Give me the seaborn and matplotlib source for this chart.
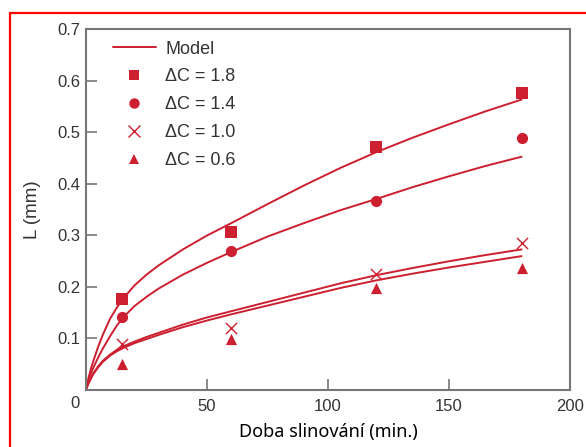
import numpy as np
import pandas as pd
import seaborn as sns
import matplotlib as mpl
from matplotlib import pyplot as plt
from matplotlib.lines import Line2D
from matplotlib.patches import Rectangle

sns.set_style("white")
plt.rcParams['font.family'] = ['Liberation Sans', 'DejaVu Sans']

# model curves
t_model = [0, 1, 2, 3, 5, 7, 10, 13, 16, 20, 25, 30, 40, 50, 60, 75, 90, 105, 120, 135, 150, 165, 180]
model_18 = [0, 0.022, 0.040, 0.055, 0.083, 0.107, 0.138, 0.161, 0.180, 0.202, 0.223, 0.241,
            0.272, 0.299, 0.323, 0.360, 0.396, 0.430, 0.461, 0.489, 0.515, 0.540, 0.563]
model_14 = [0, 0.018, 0.031, 0.042, 0.062, 0.080, 0.104, 0.126, 0.143, 0.162, 0.180, 0.196,
            0.223, 0.246, 0.267, 0.297, 0.323, 0.348, 0.370, 0.393, 0.414, 0.434, 0.452]
model_10 = [0, 0.012, 0.022, 0.031, 0.045, 0.056, 0.068, 0.078, 0.085, 0.093, 0.102, 0.110,
            0.126, 0.140, 0.152, 0.170, 0.188, 0.206, 0.222, 0.236, 0.249, 0.261, 0.272]
model_06 = [0, 0.012, 0.021, 0.030, 0.043, 0.054, 0.066, 0.075, 0.082, 0.090, 0.098, 0.106,
            0.121, 0.134, 0.146, 0.163, 0.180, 0.197, 0.212, 0.225, 0.237, 0.248, 0.259]

# measured points
t_meas = [15, 60, 120, 180]
meas_18 = [0.176, 0.305, 0.471, 0.576]
meas_14 = [0.141, 0.269, 0.366, 0.488]
meas_10 = [0.088, 0.119, 0.225, 0.284]
meas_06 = [0.050, 0.098, 0.198, 0.236]

labels = ['ΔC = 1.8', 'ΔC = 1.4', 'ΔC = 1.0', 'ΔC = 0.6']
markers = ['s', 'o', 'x', '^']
red = '#cc1f2f'

model_df = pd.concat([
    pd.DataFrame({'t': t_model, 'L': m, 'dc': lab})
    for m, lab in zip([model_18, model_14, model_10, model_06], labels)
])

fig = plt.figure(figsize=(5.86, 4.47), dpi=100)
ax = fig.add_axes([0.1468, 0.1286, 0.8259, 0.8065])

sns.lineplot(data=model_df, x='t', y='L', hue='dc', palette=[red] * 4,
             linewidth=1.4, legend=False, ax=ax, sort=False)
for m, meas in zip(markers, [meas_18, meas_14, meas_10, meas_06]):
    if m == 'x':
        sns.scatterplot(x=t_meas, y=meas, marker=m, color=red, s=65, linewidth=1.0,
                        ax=ax, zorder=3)
    else:
        sns.scatterplot(x=t_meas, y=meas, marker=m, color=red, s=65, linewidth=0,
                        ax=ax, zorder=3)

ax.set_xlim(0, 200)
ax.set_ylim(0, 0.7)
ax.set_xticks([0, 50, 100, 150, 200])
ax.set_yticks([0.1, 0.2, 0.3, 0.4, 0.5, 0.6, 0.7])
ax.set_yticklabels(['0.1', '0.2', '0.3', '0.4', '0.5', '0.6', '0.7'])
ax.tick_params(direction='in', length=8, width=1.2, color='#777777',
               labelsize=12, labelcolor='#333333', left=True, bottom=True)
ax.tick_params(axis='y', pad=4)
ax.tick_params(axis='x', pad=7)
ax.text(-0.013, -0.018, '0', transform=ax.transAxes, ha='right', va='top',
        fontsize=12, color='#333333')
ax.set_xticklabels(['', '50', '100', '150', '200'])
for s in ax.spines.values():
    s.set_color('#777777')
    s.set_linewidth(1.5)

ax.set_ylabel('L (mm)', fontsize=13.5, color='#333333', labelpad=12)
ax.set_xlabel('Doba slinování (min.)', fontsize=13, color='black', labelpad=6,
              family=['Noto Sans', 'DejaVu Sans'])

handles = [Line2D([], [], color=red, linewidth=1.4)]
for m in markers:
    if m == 'x':
        handles.append(Line2D([], [], color=red, marker=m, linestyle='none',
                              markersize=8, markeredgewidth=1.0))
    else:
        handles.append(Line2D([], [], color=red, marker=m, linestyle='none',
                              markersize=7.5, markeredgewidth=0))
leg = ax.legend(handles, ['Model'] + labels, loc='upper left', bbox_to_anchor=(0.055, 0.968),
                frameon=False, fontsize=13, handlelength=2.4, handletextpad=0.5,
                labelspacing=0.6, borderpad=0, borderaxespad=0)
for txt in leg.get_texts():
    txt.set_color('#333333')

fig.patches.append(Rectangle((10 / 586, -0.05), 1.2, 0.971 + 0.05, transform=fig.transFigure,
                             fill=False, edgecolor='#ff0000', linewidth=1.6, zorder=10))

fig.savefig('out.png', dpi=100)
